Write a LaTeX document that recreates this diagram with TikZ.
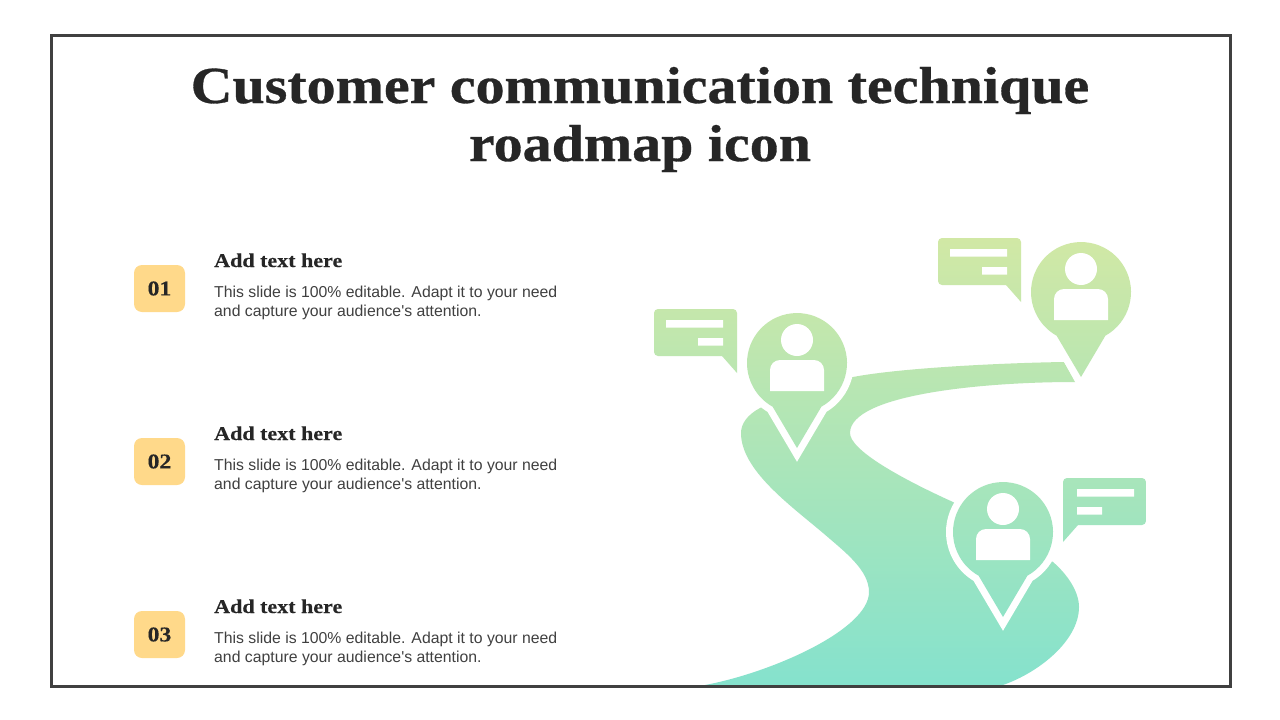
\documentclass[tikz,border=0pt]{standalone}
\usepackage{fontspec}
\setmainfont[Ligatures=TeXOff]{Liberation Sans}
\newfontfamily\titlefont[FakeStretch=1.115,FakeBold=0.6]{Liberation Serif}
\newfontfamily\headfont[FakeStretch=1.13,FakeBold=0.25]{Liberation Serif}
\definecolor{gradtop}{RGB}{209,232,165}
\definecolor{gradbot}{RGB}{133,226,205}
\definecolor{framecol}{RGB}{64,64,64}
\definecolor{titlecol}{RGB}{38,38,38}
\definecolor{bodycol}{RGB}{64,64,64}
\definecolor{badgecol}{RGB}{255,217,138}
\newcommand{\gradfill}[1]{\begin{scope}\clip #1;\shade[top color=gradtop,bottom color=gradbot] (0,238) rectangle (1280,685);\end{scope}}
\newcommand{\pinoutline}{(0,85) -- (24.4,43.7) arc[start angle=-60.8,end angle=240.8,radius=50pt] -- cycle}
\newcommand{\pinhalo}[2]{\draw[white,line width=14pt,miter limit=10,shift={(#1,#2)}] \pinoutline;}
\newcommand{\pinbody}[2]{%
  \gradfill{[shift={(#1,#2)}] \pinoutline}
  \fill[white,shift={(#1,#2)}] (0,-23) circle[radius=16pt];
  \fill[white,shift={(#1,#2)}] (-27,28) -- (-27,7) arc[start angle=180,end angle=90,radius=10pt] -- (17,-3) arc[start angle=90,end angle=0,radius=10pt] -- (27,28) -- cycle;}
\newcommand{\bubbleleft}[2]{%
  \gradfill{[shift={(#1,#2)}] (4,0) -- (79,0) arc[start angle=90,end angle=0,radius=4pt] -- (83,64) -- (68,47) -- (4,47) arc[start angle=270,end angle=180,radius=4pt] -- (0,4) arc[start angle=180,end angle=90,radius=4pt] -- cycle}
  \fill[white,shift={(#1,#2)}] (12,11) rectangle (69,18.5) (44,29) rectangle (69,36.5);}
\newcommand{\bubbleright}[2]{%
  \gradfill{[shift={(#1,#2)}] (4,0) -- (79,0) arc[start angle=90,end angle=0,radius=4pt] -- (83,43) arc[start angle=0,end angle=-90,radius=4pt] -- (15,47) -- (0,64) -- (0,4) arc[start angle=180,end angle=90,radius=4pt] -- cycle}
  \fill[white,shift={(#1,#2)}] (14,11) rectangle (71,18.5) (14,29) rectangle (39,36.5);}
\tikzset{
  badge/.style={fill=badgecol,rounded corners=8pt,minimum width=51pt,minimum height=47pt,inner sep=0pt,text=titlecol,font=\headfont\bfseries\fontsize{21}{21}\selectfont},
  headline/.style={anchor=base west,inner sep=0pt,text=titlecol,font=\headfont\bfseries\fontsize{19.5}{22}\selectfont},
  bodytext/.style={anchor=north west,inner sep=0pt,align=left,text=bodycol,font=\fontsize{15.8}{19}\selectfont},
  titletext/.style={anchor=base,inner sep=0pt,text=titlecol,font=\titlefont\bfseries\fontsize{52}{58}\selectfont}
}
\begin{document}
\begin{tikzpicture}[x=1pt,y=-1pt]
\useasboundingbox (0,0) rectangle (1280,720);
\fill[white] (0,0) rectangle (1280,720);
% road
\gradfill{(1064,362) .. controls (1000,363) and (900,368) .. (853,377)
  -- (790,395) -- (760,408) .. controls (747,415) and (741,424) .. (741,433)
  .. controls (741,470) and (790,505) .. (823,533)
  .. controls (845,552) and (869,570) .. (869,592)
  .. controls (869,630) and (770,673) .. (705,685)
  -- (1003,685) .. controls (1040,672) and (1079,640) .. (1079,607)
  .. controls (1079,592) and (1068,575) .. (1053,562)
  -- (953,502) .. controls (900,478) and (850,450) .. (850,433)
  .. controls (850,395) and (980,382) .. (1075,382) -- cycle}
\pinhalo{797}{363}
\pinhalo{1081}{292}
\pinhalo{1003}{532}
\pinbody{797}{363}
\pinbody{1081}{292}
\pinbody{1003}{532}
\bubbleleft{654}{309}
\bubbleleft{938}{238}
\bubbleright{1063}{478}
% frame
\draw[framecol,line width=3pt] (51,35.5) rectangle (1230.5,686);
% title
\node[titletext] (title1) at (640,103) {Customer communication technique};
\node[titletext] (title2) at (640,161) {roadmap icon};
% rows
\node[badge] (b1) at (159.5,288.5) {\raisebox{-1pt}{01}};
\node[headline] (h1) at (214,267) {Add text here};
\node[bodytext] (t1) at (214,286) {This slide is 100\% editable. Adapt it to your need\\and capture your audience's attention.};
\node[badge] (b2) at (159.5,461.5) {\raisebox{-1pt}{02}};
\node[headline] (h2) at (214,440) {Add text here};
\node[bodytext] (t2) at (214,459) {This slide is 100\% editable. Adapt it to your need\\and capture your audience's attention.};
\node[badge] (b3) at (159.5,634.5) {\raisebox{-1pt}{03}};
\node[headline] (h3) at (214,613) {Add text here};
\node[bodytext] (t3) at (214,632) {This slide is 100\% editable. Adapt it to your need\\and capture your audience's attention.};
\end{tikzpicture}
\end{document}
